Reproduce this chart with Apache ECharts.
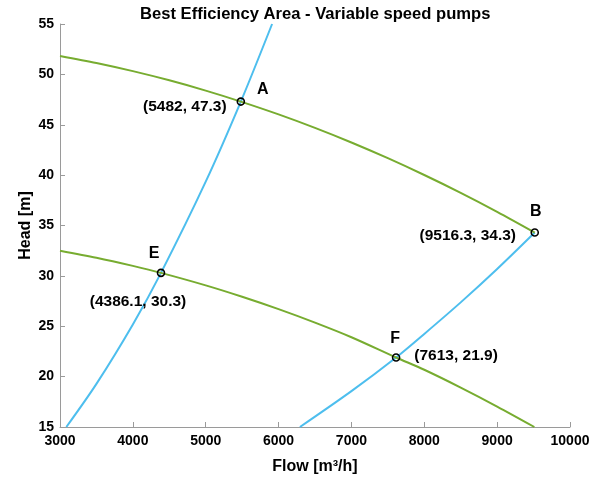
<!DOCTYPE html>
<html>
<head>
<meta charset="utf-8">
<script src="https://cdn.jsdelivr.net/npm/echarts@6/dist/echarts.min.js"></script>
<style>html,body{margin:0;padding:0;background:#fff;}#c{width:602px;height:482px;}</style>
</head>
<body>
<div id="c"></div>
<script>
// Pump curve at full speed (flow m3/h, head m)
const pumpFullFlow = [3000, 3500, 4000, 4500, 5000, 5482, 6000, 6500, 7000, 7500, 8000, 8500, 9000, 9516.3];
const pumpFullHead = [51.83, 51.13, 50.32, 49.41, 48.39, 47.3, 46.03, 44.69, 43.24, 41.68, 40.01, 38.24, 36.36, 34.3];
// Pump curve at reduced speed
const pumpLowFlow = [3000, 3500, 4000, 4386.1, 5000, 5500, 6000, 6500, 7000, 7613, 8000, 8500, 9000, 9511];
const pumpLowHead = [32.5, 31.8, 30.99, 30.3, 29.06, 27.93, 26.7, 25.36, 23.91, 21.9, 20.68, 18.91, 17.03, 15.0];
// Affinity parabola through A and E
const affLeftFlow = [3087, 3500, 4000, 4386.1, 5000, 5482, 5911];
const affLeftHead = [15.0, 19.28, 25.18, 30.3, 39.35, 47.3, 55.0];
// Affinity parabola through F and B
const affRightFlow = [6293, 7000, 7613, 8000, 8500, 9000, 9516.3];
const affRightHead = [15.0, 18.56, 21.9, 24.24, 27.37, 30.68, 34.3];
// Marked points
const pointNames = ['A', 'B', 'E', 'F'];
const pointFlow = [5482, 9516.3, 4386.1, 7613];
const pointHead = [47.3, 34.3, 30.3, 21.9];
// Axis ticks
const xMin = 3000, xMax = 10000, xStep = 1000;
const yMin = 15, yMax = 55, yStep = 5;

const zip = (a, b) => a.map((v, i) => [v, b[i]]);
const GREEN = '#77AC30', BLUE = '#4DBEEE';
const FONT = 'Liberation Sans';

// label offsets relative to point (style only)
const letterOffsets = {A: [22, -12], B: [1, -21], E: [-7, -19], F: [-1, -19]};
const coordOffsets = {A: [-56, 5], B: [-67, 3], E: [-23, 29], F: [60, -2]};

const labelRich = {
  t: {fontFamily: FONT, fontWeight: 'bold', color: '#000', fontSize: 16},
  c: {fontFamily: FONT, fontWeight: 'bold', color: '#000', fontSize: 15.5}
};
const letterData = pointNames.map((n, i) => ({
  value: [pointFlow[i], pointHead[i]], name: n,
  label: {show: true, position: 'inside', offset: letterOffsets[n], formatter: '{t|' + n + '}'}
}));
const coordData = pointNames.map((n, i) => ({
  value: [pointFlow[i], pointHead[i]], name: n,
  label: {show: true, position: 'inside', offset: coordOffsets[n],
    formatter: '{c|(' + String(pointFlow[i]) + ', ' + String(pointHead[i]) + ')}'}
}));

const lineSeries = (data, color) => ({
  type: 'line', data: data, smooth: 0.3, showSymbol: false, symbol: 'none',
  lineStyle: {color: color, width: 2}, clip: true, animation: false, silent: true, z: 2
});

const chart = echarts.init(document.getElementById('c'), null, {renderer: 'canvas'});
chart.setOption({
  animation: false,
  backgroundColor: '#fff',
  title: {
    text: 'Best Efficiency Area - Variable speed pumps',
    left: 135, top: 1,
    textStyle: {fontFamily: FONT, fontSize: 16.6, fontWeight: 'bold', color: '#000'}
  },
  grid: {left: 60, right: 32, top: 24, bottom: 55, containLabel: false},
  xAxis: {
    type: 'value', min: xMin, max: xMax, interval: xStep,
    name: 'Flow [m³/h]', nameLocation: 'middle', nameGap: 32, nameMoveOverlap: false,
    nameTextStyle: {fontFamily: FONT, fontSize: 16, fontWeight: 'bold', color: '#000'},
    axisLine: {show: true, lineStyle: {color: '#9a9a9a', width: 1}},
    axisTick: {show: true, inside: true, length: 5, lineStyle: {color: '#9a9a9a'}},
    axisLabel: {fontFamily: FONT, fontSize: 14, fontWeight: 'bold', color: '#000', margin: 7,
      formatter: v => String(v)},
    splitLine: {show: false}
  },
  yAxis: {
    type: 'value', min: yMin, max: yMax, interval: yStep,
    name: 'Head [m]', nameLocation: 'middle', nameGap: 26, nameMoveOverlap: false,
    nameTextStyle: {fontFamily: FONT, fontSize: 16, fontWeight: 'bold', color: '#000'},
    axisLine: {show: true, lineStyle: {color: '#9a9a9a', width: 1}},
    axisTick: {show: true, inside: true, length: 5, lineStyle: {color: '#9a9a9a'}},
    axisLabel: {fontFamily: FONT, fontSize: 14, fontWeight: 'bold', color: '#000', margin: 6,
      formatter: v => String(v)},
    splitLine: {show: false}
  },
  series: [
    lineSeries(zip(affLeftFlow, affLeftHead), BLUE),
    lineSeries(zip(affRightFlow, affRightHead), BLUE),
    lineSeries(zip(pumpFullFlow, pumpFullHead), GREEN),
    lineSeries(zip(pumpLowFlow, pumpLowHead), GREEN),
    {
      type: 'scatter', data: letterData, symbol: 'circle', symbolSize: 7,
      itemStyle: {color: 'rgba(0,0,0,0)', borderColor: '#000', borderWidth: 1.6, opacity: 1},
      label: {rich: labelRich},
      z: 5, silent: true
    },
    {
      type: 'scatter', data: coordData, symbol: 'circle', symbolSize: 1,
      itemStyle: {color: 'rgba(0,0,0,0)', borderWidth: 0, opacity: 1},
      label: {rich: labelRich},
      z: 6, silent: true
    }
  ]
});
</script>
</body>
</html>
